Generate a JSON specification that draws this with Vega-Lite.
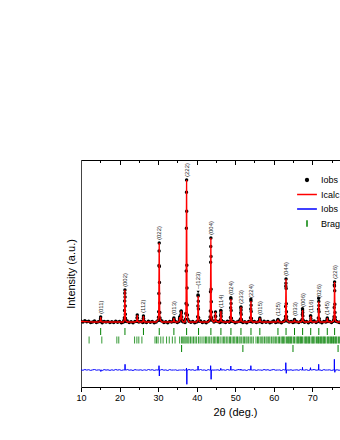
{
"$schema": "https://vega.github.io/schema/vega-lite/v6.json",
"width": 259, "height": 227,
"autosize": {"type": "none"},
"padding": {"left": 81, "top": 160, "right": 0, "bottom": 53},
"config": {"font": "Liberation Sans", "view": {"stroke": null}, "axis": {"grid": false}},
"datasets": {
"p": [
{"t":10.0,"o":65.8,"c":65.5,"d":17.2},{"t":10.5,"o":65.0,"c":65.5,"d":16.7},{"t":11.0,"o":66.3,"c":65.4,"d":17.5},{"t":11.5,"o":65.2,"c":65.3,"d":16.9},{"t":12.0,"o":65.7,"c":65.2,"d":17.3},{"t":12.5,"o":64.5,"c":65.1,"d":16.6},{"t":13.0,"o":65.1,"c":65,"d":17.1},{"t":13.5,"o":65.9,"c":65,"d":17.5},{"t":14.0,"o":64.6,"c":65,"d":16.8},{"t":14.5,"o":65.2,"c":65,"d":17.1},
{"t":15.5,"o":64.2,"c":65,"d":16.5},{"t":16.0,"o":65.6,"c":65,"d":17.4},{"t":16.5,"o":64.9,"c":65,"d":16.9},{"t":17.0,"o":65.4,"c":65,"d":17.2},{"t":17.5,"o":64.4,"c":65,"d":16.6},{"t":18.0,"o":65.3,"c":65,"d":17.2},{"t":18.5,"o":64.5,"c":65,"d":16.7},{"t":19.0,"o":65.8,"c":65,"d":17.5},{"t":19.5,"o":64.8,"c":65,"d":16.9},{"t":20.0,"o":65.5,"c":65,"d":17.3},{"t":20.5,"o":64.3,"c":65,"d":16.6},{"t":21.0,"o":65.1,"c":65,"d":17.1},
{"t":22.0,"o":65.9,"c":65,"d":17.5},{"t":22.5,"o":64.6,"c":65,"d":16.8},{"t":23.0,"o":65.2,"c":65,"d":17.1},{"t":23.5,"o":64.2,"c":65,"d":16.5},{"t":24.0,"o":65.6,"c":65,"d":17.4},{"t":25.0,"o":64.9,"c":65,"d":16.9},{"t":25.5,"o":65.4,"c":65,"d":17.2},{"t":26.0,"o":64.4,"c":65,"d":16.6},{"t":26.5,"o":65.3,"c":65,"d":17.2},{"t":27.0,"o":64.5,"c":65,"d":16.7},{"t":27.5,"o":65.8,"c":65,"d":17.5},{"t":28.0,"o":64.8,"c":65,"d":16.9},{"t":28.5,"o":65.5,"c":65,"d":17.3},{"t":29.0,"o":64.3,"c":65,"d":16.6},{"t":29.5,"o":65.1,"c":65,"d":17.1},
{"t":31.0,"o":65.9,"c":65,"d":17.5},{"t":31.5,"o":64.6,"c":65,"d":16.8},{"t":32.0,"o":65.2,"c":65,"d":17.1},{"t":32.5,"o":64.2,"c":65,"d":16.5},{"t":33.0,"o":65.6,"c":65,"d":17.4},{"t":33.5,"o":64.9,"c":65,"d":16.9},{"t":34.5,"o":65.4,"c":65,"d":17.2},{"t":35.0,"o":64.4,"c":65,"d":16.6},{"t":36.5,"o":65.3,"c":65,"d":17.2},{"t":37.0,"o":64.5,"c":65,"d":16.7},
{"t":38.0,"o":65.8,"c":65,"d":17.5},{"t":38.5,"o":64.8,"c":65,"d":16.9},{"t":39.0,"o":65.5,"c":65,"d":17.3},{"t":39.5,"o":64.3,"c":65,"d":16.6},{"t":40.0,"o":65.1,"c":65,"d":17.1},{"t":41.0,"o":65.9,"c":65,"d":17.5},{"t":41.5,"o":64.6,"c":65,"d":16.8},{"t":42.0,"o":65.2,"c":65,"d":17.1},{"t":42.5,"o":64.2,"c":65,"d":16.5},{"t":43.0,"o":65.6,"c":65,"d":17.4},{"t":44.5,"o":64.9,"c":65,"d":16.9},{"t":45.5,"o":65.4,"c":65,"d":17.2},{"t":46.0,"o":64.4,"c":65,"d":16.6},
{"t":47.0,"o":65.3,"c":65,"d":17.2},{"t":47.5,"o":64.5,"c":65,"d":16.7},{"t":48.0,"o":65.8,"c":65,"d":17.5},{"t":48.5,"o":64.8,"c":65,"d":16.9},{"t":49.5,"o":65.5,"c":65,"d":17.3},{"t":50.0,"o":64.3,"c":65,"d":16.6},{"t":50.5,"o":65.1,"c":65,"d":17.1},{"t":51.0,"o":65.9,"c":65,"d":17.5},{"t":52.0,"o":64.6,"c":65,"d":16.8},{"t":52.5,"o":65.2,"c":65,"d":17.1},{"t":53.0,"o":64.2,"c":65,"d":16.5},{"t":53.5,"o":65.6,"c":65,"d":17.4},
{"t":54.5,"o":64.9,"c":65,"d":16.9},{"t":55.0,"o":65.4,"c":65,"d":17.2},{"t":55.5,"o":64.4,"c":65,"d":16.6},{"t":56.0,"o":65.3,"c":65,"d":17.2},{"t":57.0,"o":64.5,"c":65,"d":16.7},{"t":57.5,"o":65.8,"c":65,"d":17.5},{"t":58.0,"o":64.8,"c":65,"d":16.9},{"t":58.5,"o":65.5,"c":65,"d":17.3},{"t":59.0,"o":64.3,"c":65,"d":16.6},{"t":59.5,"o":65.1,"c":65,"d":17.1},{"t":60.0,"o":65.9,"c":65,"d":17.5},{"t":60.5,"o":64.6,"c":65,"d":16.8},
{"t":61.5,"o":65.2,"c":65,"d":17.1},{"t":62.0,"o":64.2,"c":65,"d":16.5},{"t":62.5,"o":65.6,"c":65,"d":17.4},{"t":64.0,"o":64.9,"c":65,"d":16.9},{"t":64.5,"o":65.4,"c":65,"d":17.2},{"t":65.0,"o":64.4,"c":65,"d":16.6},{"t":66.0,"o":65.3,"c":65,"d":17.2},{"t":66.5,"o":64.5,"c":65,"d":16.7},{"t":67.0,"o":65.8,"c":65,"d":17.5},{"t":68.0,"o":64.8,"c":65,"d":16.9},{"t":68.5,"o":65.5,"c":65,"d":17.3},{"t":69.0,"o":64.3,"c":65,"d":16.6},
{"t":70.0,"o":65.1,"c":65,"d":17.1},{"t":70.5,"o":65.9,"c":65,"d":17.5},{"t":71.0,"o":64.6,"c":65,"d":16.8},{"t":72.0,"o":65.2,"c":65,"d":17.1},{"t":72.5,"o":64.2,"c":65,"d":16.5},{"t":73.0,"o":65.6,"c":65,"d":17.4},{"t":73.5,"o":64.9,"c":65,"d":16.9},{"t":74.5,"o":65.4,"c":65,"d":17.2},{"t":75.0,"o":64.4,"c":65,"d":16.6},{"t":76.5,"o":65.3,"c":65,"d":17.2},{"t":77.0,"o":64.5,"c":65,"d":16.7},{"t":77.5,"o":65.8,"c":65,"d":17.5},
{"t":14.95,"o":65.5,"c":65.5,"d":17},{"t":15.05,"o":68,"c":68,"d":17},{"t":15.1,"o":70,"c":70,"d":17},{"t":15.15,"o":66.3,"c":67.8,"d":15.5},{"t":15.25,"o":65.5,"c":65.5,"d":17},
{"t":21.08,"o":65.6,"c":65.6,"d":17},{"t":21.2,"o":66.9,"c":66.9,"d":17},{"t":21.26,"o":69.2,"c":69.2,"d":17},{"t":21.3,"o":76.5,"c":76.5,"d":17},{"t":21.34,"o":86.1,"c":86.1,"d":17},{"t":21.37,"o":93.8,"c":93.8,"d":17},{"t":21.4,"o":97,"c":97,"d":17},{"t":21.43,"o":90,"c":84.3,"d":22.7},{"t":21.46,"o":81,"c":81,"d":17},{"t":21.5,"o":72.7,"c":72.7,"d":17},{"t":21.54,"o":68.8,"c":68.8,"d":17},{"t":21.6,"o":66.6,"c":66.6,"d":17},{"t":21.72,"o":65.6,"c":65.6,"d":17},
{"t":24.45,"o":65.7,"c":65.7,"d":17},{"t":24.55,"o":69.2,"c":69.2,"d":17},{"t":24.6,"o":72,"c":72,"d":17},{"t":24.65,"o":68.9,"c":68.9,"d":17},{"t":24.75,"o":65.7,"c":65.7,"d":17},
{"t":26.05,"o":65.6,"c":65.6,"d":17},{"t":26.15,"o":68.6,"c":68.6,"d":17},{"t":26.2,"o":71,"c":71,"d":17},{"t":26.25,"o":68.3,"c":68.3,"d":17},{"t":26.35,"o":65.6,"c":65.6,"d":17},
{"t":29.98,"o":66.6,"c":66.6,"d":17},{"t":30.1,"o":69.7,"c":69.7,"d":17},{"t":30.16,"o":75.3,"c":75.3,"d":17},{"t":30.2,"o":93.4,"c":93.4,"d":17},{"t":30.24,"o":121.4,"c":117.1,"d":21.3},{"t":30.27,"o":136.1,"c":136.1,"d":17},{"t":30.3,"o":144,"c":144,"d":17},{"t":30.33,"o":120.6,"c":126.6,"d":11},{"t":30.36,"o":104.5,"c":104.5,"d":17},{"t":30.4,"o":84,"c":84,"d":17},{"t":30.44,"o":74.5,"c":74.5,"d":17},{"t":30.5,"o":69,"c":69,"d":17},{"t":30.62,"o":66.6,"c":66.6,"d":17},
{"t":33.95,"o":65.4,"c":65.4,"d":17},{"t":34.05,"o":67.4,"c":67.4,"d":17},{"t":34.1,"o":69,"c":69,"d":17},{"t":34.15,"o":67.2,"c":67.2,"d":17},{"t":34.25,"o":65.4,"c":65.4,"d":17},
{"t":35.45,"o":65.5,"c":65.5,"d":17},{"t":35.55,"o":68,"c":68,"d":17},{"t":35.6,"o":70,"c":70,"d":17},{"t":35.7,"o":68.5,"c":68.5,"d":17},{"t":35.8,"o":68,"c":68,"d":17},{"t":35.9,"o":72,"c":72,"d":17},{"t":35.97,"o":75.5,"c":75.5,"d":17},{"t":36.0,"o":76,"c":76,"d":17},{"t":36.05,"o":74,"c":74,"d":17},{"t":36.12,"o":70,"c":70,"d":17},{"t":36.25,"o":66.5,"c":66.5,"d":17},{"t":36.4,"o":65.6,"c":65.6,"d":17},
{"t":37.08,"o":67.8,"c":67.8,"d":17},{"t":37.2,"o":73.5,"c":73.5,"d":17},{"t":37.26,"o":83.5,"c":83.5,"d":17},{"t":37.3,"o":116.1,"c":116.1,"d":17},{"t":37.34,"o":158.7,"c":158.7,"d":17},{"t":37.37,"o":194.8,"c":192.8,"d":19},{"t":37.4,"o":207,"c":207,"d":17},{"t":37.43,"o":175.8,"c":175.8,"d":17},{"t":37.46,"o":121.7,"c":136,"d":2.7},{"t":37.5,"o":99.1,"c":99.1,"d":17},{"t":37.54,"o":82,"c":82,"d":17},{"t":37.6,"o":72.1,"c":72.1,"d":17},{"t":37.72,"o":67.8,"c":67.8,"d":17},
{"t":40.15,"o":65.8,"c":65.8,"d":17},{"t":40.28,"o":70.2,"c":70.2,"d":17},{"t":40.34,"o":81.1,"c":81.1,"d":17},{"t":40.37,"o":91.9,"c":87.9,"d":21},{"t":40.4,"o":91,"c":91,"d":17},{"t":40.43,"o":85.8,"c":85.8,"d":17},{"t":40.46,"o":78,"c":78,"d":17},{"t":40.52,"o":69.2,"c":69.2,"d":17},{"t":40.65,"o":65.8,"c":65.8,"d":17},
{"t":43.38,"o":66.7,"c":66.7,"d":17},{"t":43.5,"o":70,"c":70,"d":17},{"t":43.56,"o":75.9,"c":75.9,"d":17},{"t":43.6,"o":95.2,"c":95.2,"d":17},{"t":43.64,"o":124.7,"c":120.4,"d":21.3},{"t":43.67,"o":140.6,"c":140.6,"d":17},{"t":43.7,"o":149,"c":149,"d":17},{"t":43.73,"o":130.5,"c":130.5,"d":17},{"t":43.76,"o":97.7,"c":107,"d":7.7},{"t":43.8,"o":85.2,"c":85.2,"d":17},{"t":43.84,"o":75.1,"c":75.1,"d":17},{"t":43.9,"o":69.2,"c":69.2,"d":17},{"t":44.02,"o":66.7,"c":66.7,"d":17},
{"t":44.75,"o":66,"c":66,"d":17},{"t":44.85,"o":71,"c":71,"d":17},{"t":44.9,"o":75,"c":75,"d":17},{"t":44.95,"o":70.5,"c":70.5,"d":17},{"t":45.05,"o":66,"c":66,"d":17},
{"t":46.05,"o":65.3,"c":65.3,"d":17},{"t":46.18,"o":67.2,"c":67.2,"d":17},{"t":46.24,"o":71.8,"c":71.8,"d":17},{"t":46.27,"o":76.4,"c":74.7,"d":18.7},{"t":46.3,"o":76,"c":76,"d":17},{"t":46.33,"o":73.8,"c":73.8,"d":17},{"t":46.36,"o":70.5,"c":70.5,"d":17},{"t":46.42,"o":66.8,"c":66.8,"d":17},{"t":46.55,"o":65.3,"c":65.3,"d":17},
{"t":48.65,"o":65.7,"c":65.7,"d":17},{"t":48.78,"o":69.6,"c":69.6,"d":17},{"t":48.84,"o":79.3,"c":79.3,"d":17},{"t":48.87,"o":89.2,"c":85.2,"d":21},{"t":48.9,"o":88,"c":88,"d":17},{"t":48.93,"o":83.4,"c":83.4,"d":17},{"t":48.96,"o":76.5,"c":76.5,"d":17},{"t":49.02,"o":68.7,"c":68.7,"d":17},{"t":49.15,"o":65.7,"c":65.7,"d":17},
{"t":51.25,"o":65.5,"c":65.5,"d":17},{"t":51.38,"o":68,"c":68,"d":17},{"t":51.44,"o":74.3,"c":74.3,"d":17},{"t":51.47,"o":79.2,"c":78.2,"d":18},{"t":51.5,"o":80,"c":80,"d":17},{"t":51.53,"o":77,"c":77,"d":17},{"t":51.56,"o":72.5,"c":72.5,"d":17},{"t":51.62,"o":67.4,"c":67.4,"d":17},{"t":51.75,"o":65.5,"c":65.5,"d":17},
{"t":53.85,"o":65.6,"c":65.6,"d":17},{"t":53.98,"o":69.2,"c":69.2,"d":17},{"t":54.04,"o":78,"c":78,"d":17},{"t":54.07,"o":87.8,"c":83.5,"d":21.3},{"t":54.1,"o":86,"c":86,"d":17},{"t":54.13,"o":81.8,"c":81.8,"d":17},{"t":54.16,"o":75.5,"c":75.5,"d":17},{"t":54.22,"o":68.4,"c":68.4,"d":17},{"t":54.35,"o":65.6,"c":65.6,"d":17},
{"t":56.25,"o":65.4,"c":65.4,"d":17},{"t":56.35,"o":67.4,"c":67.4,"d":17},{"t":56.4,"o":69,"c":69,"d":17},{"t":56.45,"o":67.2,"c":67.2,"d":17},{"t":56.55,"o":65.4,"c":65.4,"d":17},
{"t":60.95,"o":65.3,"c":65.3,"d":17},{"t":61.05,"o":66.5,"c":66.5,"d":17},{"t":61.1,"o":67.5,"c":67.5,"d":17},{"t":61.15,"o":66.4,"c":66.4,"d":17},{"t":61.25,"o":65.3,"c":65.3,"d":17},
{"t":62.88,"o":65.9,"c":65.9,"d":17},{"t":63.0,"o":67.6,"c":67.6,"d":17},{"t":63.06,"o":70.6,"c":70.6,"d":17},{"t":63.1,"o":80.5,"c":80.5,"d":17},{"t":63.14,"o":100.7,"c":93.4,"d":24.3},{"t":63.17,"o":103.7,"c":103.7,"d":17},{"t":63.2,"o":108,"c":108,"d":17},{"t":63.23,"o":98.5,"c":98.5,"d":17},{"t":63.26,"o":83.2,"c":86.5,"d":13.7},{"t":63.3,"o":75.3,"c":75.3,"d":17},{"t":63.34,"o":70.2,"c":70.2,"d":17},{"t":63.4,"o":67.2,"c":67.2,"d":17},{"t":63.52,"o":65.9,"c":65.9,"d":17},
{"t":65.25,"o":65.3,"c":65.3,"d":17},{"t":65.35,"o":66.5,"c":66.5,"d":17},{"t":65.4,"o":67.5,"c":67.5,"d":17},{"t":65.45,"o":66.4,"c":66.4,"d":17},{"t":65.55,"o":65.3,"c":65.3,"d":17},
{"t":67.25,"o":65.4,"c":65.4,"d":17},{"t":67.38,"o":67.4,"c":67.4,"d":17},{"t":67.44,"o":72.4,"c":72.4,"d":17},{"t":67.47,"o":78.3,"c":75.6,"d":19.7},{"t":67.5,"o":77,"c":77,"d":17},{"t":67.53,"o":74.6,"c":74.6,"d":17},{"t":67.56,"o":71,"c":71,"d":17},{"t":67.62,"o":66.9,"c":66.9,"d":17},{"t":67.75,"o":65.4,"c":65.4,"d":17},
{"t":69.45,"o":65.6,"c":65.6,"d":17},{"t":69.55,"o":70.9,"c":68.6,"d":19.3},{"t":69.6,"o":71,"c":71,"d":17},{"t":69.65,"o":68.3,"c":68.3,"d":17},{"t":69.75,"o":65.6,"c":65.6,"d":17},
{"t":71.45,"o":65.6,"c":65.6,"d":17},{"t":71.58,"o":69.1,"c":69.1,"d":17},{"t":71.64,"o":77.7,"c":77.7,"d":17},{"t":71.67,"o":88.7,"c":83,"d":22.7},{"t":71.7,"o":85.5,"c":85.5,"d":17},{"t":71.73,"o":81.4,"c":81.4,"d":17},{"t":71.76,"o":75.3,"c":75.3,"d":17},{"t":71.82,"o":68.3,"c":68.3,"d":17},{"t":71.95,"o":65.6,"c":65.6,"d":17},
{"t":73.75,"o":65.4,"c":65.4,"d":17},{"t":73.85,"o":67.4,"c":67.4,"d":17},{"t":73.9,"o":69,"c":69,"d":17},{"t":73.95,"o":67.2,"c":67.2,"d":17},{"t":74.05,"o":65.4,"c":65.4,"d":17},
{"t":75.48,"o":65.8,"c":65.8,"d":17},{"t":75.6,"o":67.4,"c":67.4,"d":17},{"t":75.66,"o":70.2,"c":70.2,"d":17},{"t":75.7,"o":79.4,"c":79.4,"d":17},{"t":75.74,"o":102.1,"c":91.4,"d":27.7},{"t":75.77,"o":101,"c":101,"d":17},{"t":75.8,"o":105,"c":105,"d":17},{"t":75.83,"o":96.2,"c":96.2,"d":17},{"t":75.86,"o":82.7,"c":85,"d":14.7},{"t":75.9,"o":74.6,"c":74.6,"d":17},{"t":75.94,"o":69.8,"c":69.8,"d":17},{"t":76.0,"o":67,"c":67,"d":17},{"t":76.12,"o":65.8,"c":65.8,"d":17}
],
"lab": [
{"t":15.1,"y":70,"l":"(011)"},{"t":21.4,"y":97,"l":"(002)"},{"t":26.2,"y":71,"l":"(112)"},{"t":30.3,"y":144,"l":"(022)"},{"t":34.1,"y":69,"l":"(013)"},{"t":37.4,"y":207,"l":"(222)"},{"t":40.4,"y":95,"l":"–(123)"},{"t":43.7,"y":149,"l":"(004)"},{"t":46.3,"y":76,"l":"(114)"},{"t":48.9,"y":89,"l":"(024)"},{"t":51.5,"y":80,"l":"(233)"},{"t":54.1,"y":86,"l":"(224)"},{"t":56.4,"y":69,"l":"(015)"},{"t":61.1,"y":68,"l":"(125)"},{"t":63.2,"y":108,"l":"(044)"},{"t":65.4,"y":68,"l":"(033)"},{"t":67.5,"y":77,"l":"(006)"},{"t":69.6,"y":71,"l":"(116)"},{"t":71.7,"y":86,"l":"(026)"},{"t":73.9,"y":69,"l":"(145)"},{"t":75.8,"y":105,"l":"(226)"}
],
"mk": [{"t":40.4,"y":91}],
"bragg": [
{"t":15.1,"p":1},{"t":21.4,"p":1},{"t":26.2,"p":1},{"t":30.3,"p":1},{"t":34.1,"p":1},{"t":37.4,"p":1},{"t":40.5,"p":1},{"t":43.7,"p":1},{"t":46.3,"p":1},{"t":48.9,"p":1},{"t":51.5,"p":1},{"t":54.1,"p":1},{"t":56.4,"p":1},{"t":61.1,"p":1},{"t":63.2,"p":1},{"t":65.4,"p":1},{"t":67.5,"p":1},{"t":69.6,"p":1},{"t":71.7,"p":1},{"t":73.9,"p":1},{"t":75.8,"p":1},
{"t":12.1,"p":2},{"t":15.4,"p":2},{"t":19.3,"p":2},{"t":19.8,"p":2},{"t":23.9,"p":2},{"t":24.5,"p":2},{"t":25.0,"p":2},{"t":25.8,"p":2},{"t":29.2,"p":2},{"t":29.6,"p":2},{"t":30.0,"p":2},{"t":30.7,"p":2},{"t":31.3,"p":2},{"t":32.2,"p":2},{"t":32.9,"p":2},{"t":33.7,"p":2},{"t":34.4,"p":2},{"t":35.6,"p":2},{"t":36.1,"p":2},{"t":36.4,"p":2},{"t":36.7,"p":2},{"t":37.0,"p":2},{"t":37.3,"p":2},{"t":37.7,"p":2},{"t":38.0,"p":2},{"t":38.4,"p":2},{"t":38.8,"p":2},{"t":39.2,"p":2},{"t":39.6,"p":2},{"t":40.0,"p":2},{"t":40.5,"p":2},{"t":40.9,"p":2},{"t":41.4,"p":2},{"t":41.9,"p":2},{"t":42.3,"p":2},{"t":42.6,"p":2},{"t":43.0,"p":2},{"t":43.4,"p":2},{"t":43.8,"p":2},{"t":44.3,"p":2},{"t":44.6,"p":2},{"t":45.0,"p":2},{"t":45.4,"p":2},{"t":45.7,"p":2},{"t":46.1,"p":2},{"t":46.6,"p":2},{"t":47.0,"p":2},{"t":47.3,"p":2},{"t":47.7,"p":2},{"t":48.1,"p":2},{"t":48.5,"p":2},{"t":48.8,"p":2},{"t":49.2,"p":2},{"t":49.6,"p":2},{"t":49.9,"p":2},{"t":50.3,"p":2},{"t":50.6,"p":2},{"t":51.0,"p":2},{"t":51.3,"p":2},{"t":51.7,"p":2},{"t":52.1,"p":2},{"t":52.4,"p":2},{"t":52.8,"p":2},{"t":53.1,"p":2},{"t":53.5,"p":2},{"t":53.9,"p":2},{"t":54.3,"p":2},{"t":54.7,"p":2},{"t":55.4,"p":2},{"t":55.8,"p":2},{"t":56.1,"p":2},{"t":56.5,"p":2},{"t":56.9,"p":2},{"t":57.2,"p":2},{"t":57.6,"p":2},{"t":58.0,"p":2},{"t":58.3,"p":2},{"t":58.7,"p":2},{"t":59.0,"p":2},{"t":59.4,"p":2},{"t":59.8,"p":2},{"t":60.1,"p":2},{"t":60.5,"p":2},{"t":60.8,"p":2},{"t":61.2,"p":2},{"t":61.5,"p":2},{"t":61.9,"p":2},{"t":62.2,"p":2},{"t":62.4,"p":2},{"t":62.6,"p":2},{"t":62.9,"p":2},{"t":63.3,"p":2},{"t":63.6,"p":2},{"t":63.9,"p":2},{"t":64.0,"p":2},{"t":64.3,"p":2},{"t":64.5,"p":2},{"t":64.7,"p":2},{"t":65.1,"p":2},{"t":65.4,"p":2},{"t":65.8,"p":2},{"t":66.1,"p":2},{"t":66.3,"p":2},{"t":66.5,"p":2},{"t":66.8,"p":2},{"t":67.0,"p":2},{"t":67.2,"p":2},{"t":67.5,"p":2},{"t":67.9,"p":2},{"t":68.2,"p":2},{"t":68.4,"p":2},{"t":68.6,"p":2},{"t":68.9,"p":2},{"t":69.1,"p":2},{"t":69.3,"p":2},{"t":69.7,"p":2},{"t":70.0,"p":2},{"t":70.2,"p":2},{"t":70.4,"p":2},{"t":70.7,"p":2},{"t":71.1,"p":2},{"t":71.4,"p":2},{"t":71.6,"p":2},{"t":71.8,"p":2},{"t":72.1,"p":2},{"t":72.3,"p":2},{"t":72.5,"p":2},{"t":72.8,"p":2},{"t":73.0,"p":2},{"t":73.2,"p":2},{"t":73.5,"p":2},{"t":73.9,"p":2},{"t":74.1,"p":2},{"t":74.3,"p":2},{"t":74.6,"p":2},{"t":74.8,"p":2},{"t":75.0,"p":2},{"t":75.3,"p":2},{"t":75.5,"p":2},{"t":75.7,"p":2},{"t":76.0,"p":2},{"t":76.2,"p":2},{"t":76.4,"p":2},{"t":76.8,"p":2},{"t":77.1,"p":2},
{"t":36.1,"p":3},{"t":52.0,"p":3},{"t":65.0,"p":3},{"t":76.7,"p":3}
],
"leg": [{"s":"Iobs"},{"s":"Icalc"},{"s":"Iobs - Icalc"},{"s":"Bragg positions"}]
},
"resolve": {"scale": {"y": "independent"}, "axis": {"x": "independent", "y": "independent"}},
"layer": [
{"data": {"name": "p"},
 "mark": {"type": "point", "filled": true, "size": 12, "color": "black", "opacity": 1, "clip": true},
 "encoding": {
  "x": {"field": "t", "type": "quantitative", "scale": {"domain": [10, 77.2], "nice": false, "zero": false},
   "axis": {"orient": "bottom", "title": "2θ (deg.)", "values": [10,15,20,25,30,35,40,45,50,55,60,65,70,75],
    "labelExpr": "datum.value % 10 === 0 ? datum.label : ''",
    "tickSize": {"condition": {"test": "datum.value % 10 === 0", "value": 4.5}, "value": 2.5},
    "domainColor": "black", "tickColor": "black", "labelColor": "black", "labelFontSize": 9, "labelPadding": 2,
    "labelFlush": false, "labelOverlap": false, "titleFontSize": 11, "titleFontWeight": "normal", "titleColor": "black",
    "titlePadding": 4, "titleX": 154}},
  "y": {"field": "o", "type": "quantitative", "scale": {"domain": [0, 227], "nice": false, "zero": false},
   "axis": {"orient": "left", "title": "Intensity (a.u.)", "labels": false, "ticks": false, "domainColor": "#444",
    "titleFontSize": 11, "titleFontWeight": "normal", "titleColor": "black", "titlePadding": 5}}
 }},
{"data": {"name": "p"},
 "mark": {"type": "line", "color": "#ff0000", "strokeWidth": 1.3, "clip": true},
 "encoding": {
  "x": {"field": "t", "type": "quantitative", "scale": {"domain": [10, 77.2], "nice": false, "zero": false},
   "axis": {"orient": "top", "title": null, "labels": false, "values": [10,15,20,25,30,35,40,45,50,55,60,65,70,75],
    "tickSize": {"condition": {"test": "datum.value % 10 === 0", "value": -4.5}, "value": -2.5},
    "domainColor": "black", "tickColor": "black"}},
  "y": {"field": "c", "type": "quantitative", "scale": {"domain": [0, 227], "nice": false, "zero": false}, "axis": null}
 }},
{"data": {"name": "p"},
 "mark": {"type": "line", "color": "#0000ff", "strokeWidth": 1, "clip": true},
 "encoding": {
  "x": {"field": "t", "type": "quantitative", "scale": {"domain": [10, 77.2], "nice": false, "zero": false}, "axis": null},
  "y": {"field": "d", "type": "quantitative", "scale": {"domain": [0, 227], "nice": false, "zero": false}, "axis": null}
 }},
{"data": {"name": "bragg"},
 "mark": {"type": "tick", "color": "#008000", "thickness": 1, "size": 7, "clip": true},
 "encoding": {
  "x": {"field": "t", "type": "quantitative", "scale": {"domain": [10, 77.2], "nice": false, "zero": false}, "axis": null},
  "y": {"field": "p", "type": "ordinal", "scale": {"type": "point", "domain": [1, 2, 3], "range": [171.5, 188.5], "padding": 0}, "axis": null},
  "opacity": {"condition": {"test": "datum.p == 2", "value": 0.8}, "value": 1}
 }},
{"data": {"name": "lab"},
 "mark": {"type": "text", "angle": 270, "align": "left", "baseline": "middle", "dx": 3, "fontSize": 6, "color": "#222"},
 "encoding": {
  "x": {"field": "t", "type": "quantitative", "scale": {"domain": [10, 77.2], "nice": false, "zero": false}, "axis": null},
  "y": {"field": "y", "type": "quantitative", "scale": {"domain": [0, 227], "nice": false, "zero": false}, "axis": null},
  "text": {"field": "l"}
 }},
{"data": {"name": "mk"},
 "mark": {"type": "point", "shape": "triangle-down", "filled": true, "color": "black", "size": 10, "opacity": 1},
 "encoding": {
  "x": {"field": "t", "type": "quantitative", "scale": {"domain": [10, 77.2], "nice": false, "zero": false}, "axis": null},
  "y": {"field": "y", "type": "quantitative", "scale": {"domain": [0, 227], "nice": false, "zero": false}, "axis": null},
  "yOffset": {"value": -4}
 }},
{"data": {"name": "leg"},
 "mark": {"type": "point", "filled": false, "opacity": 0},
 "encoding": {
  "color": {"field": "s", "type": "nominal",
   "scale": {"domain": ["Iobs", "Icalc", "Iobs - Icalc", "Bragg positions"], "range": ["black", "#ff0000", "#0000ff", "#008000"]},
   "legend": {"orient": "none", "legendX": 218, "legendY": 12, "title": null, "symbolSize": 200, "symbolStrokeWidth": 1.5, "symbolOpacity": 1,
    "labelFontSize": 9, "labelColor": "black", "labelOffset": 6, "rowPadding": 1.5, "padding": 0, "labelLimit": 300}},
  "shape": {"field": "s", "type": "nominal",
   "scale": {"domain": ["Iobs", "Icalc", "Iobs - Icalc", "Bragg positions"],
    "range": ["M-0.2,0A0.2,0.2,0,1,1,0.2,0A0.2,0.2,0,1,1,-0.2,0ZM-0.09,0A0.09,0.09,0,1,1,0.09,0A0.09,0.09,0,1,1,-0.09,0Z", "M-1.4,0H1.4", "M-1.4,0H1.4", "M0,-0.45V0.45"]},
   "legend": {"orient": "none", "legendX": 218, "legendY": 12, "title": null, "symbolSize": 200, "symbolStrokeWidth": 1.5, "symbolOpacity": 1,
    "labelFontSize": 9, "labelColor": "black", "labelOffset": 6, "rowPadding": 1.5, "padding": 0, "labelLimit": 300}}
 }}
]
}
